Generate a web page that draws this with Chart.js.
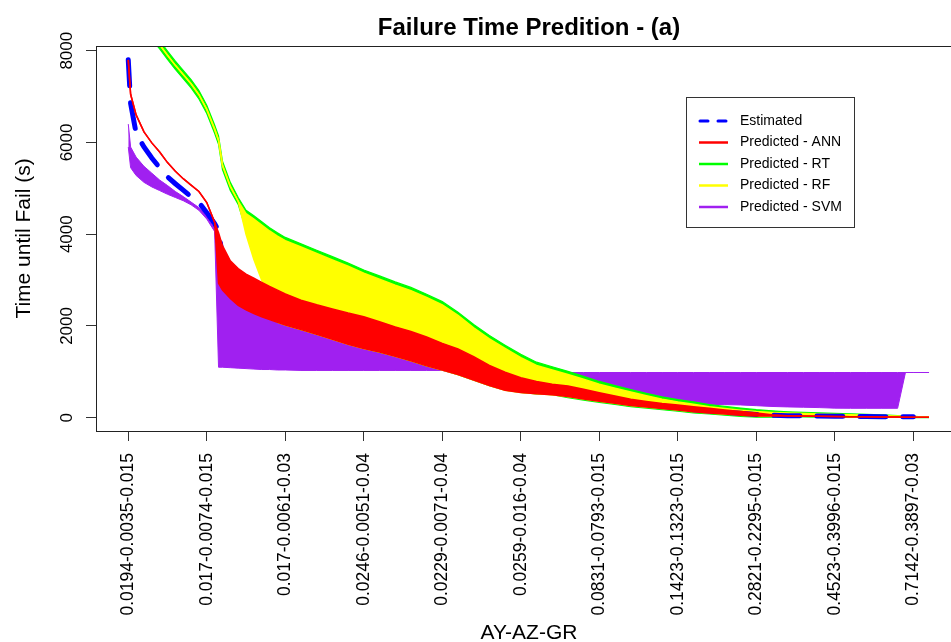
<!DOCTYPE html>
<html>
<head>
<meta charset="utf-8">
<title>Failure Time Predition - (a)</title>
<script src="https://cdn.jsdelivr.net/npm/chart.js@4.4.1/dist/chart.umd.min.js"></script>
<style>
  html, body { margin: 0; padding: 0; background: #fff; }
</style>
</head>
<body>
<canvas id="chart" width="951" height="642"></canvas>
<script>
// posiciones de las observaciones (10 unidades = una etiqueta del eje)
const pos = [
  0, 0.3, 1, 2, 3, 4, 5, 6, 7, 8, 9, 10, 11, 11.5,
  12, 13, 14, 15, 16, 17, 18, 19, 20,
  22, 24, 26, 28, 30, 32, 34, 36, 38, 40,
  42, 44, 46, 48, 50, 52, 54, 56, 58, 60,
  62, 64, 66, 68, 70, 72, 74, 76, 78, 80,
  82, 84, 86, 88, 90, 92, 94, 96, 98,
  99, 100, 102
];

const tickLabels = [
  "0.0194-0.0035-0.015", "0.017-0.0074-0.015", "0.017-0.0061-0.03",
  "0.0246-0.0051-0.04", "0.0229-0.0071-0.04", "0.0259-0.016-0.04",
  "0.0831-0.0793-0.015", "0.1423-0.1323-0.015", "0.2821-0.2295-0.015",
  "0.4523-0.3996-0.015", "0.7142-0.3897-0.03"
];
const yTicks = [0, 2000, 4000, 6000, 8000];

const seriesNames = ["Estimated", "Predicted - ANN", "Predicted - RT", "Predicted - RF", "Predicted - SVM"];
const seriesColors = ["#0000FF", "#FF0000", "#00FF00", "#FFFF00", "#A020F0"];

// Estimated
const estimated = [
  7800, 6850, 6200, 5900, 5660, 5450, 5250, 5100, 4960, 4820, 4690, 4470, 4230, 4080,
  3500, 3100, 2900, 2800, 2730, 2680, 2640, 2570, 2490,
  2360, 2240, 2120, 2020, 1920, 1820, 1720, 1610, 1490, 1370,
  1240, 1090, 940, 820, 740, 690, 640, 590, 520, 460,
  400, 340, 290, 250, 210, 175, 145, 120, 95, 70,
  55, 45, 40, 35, 30, 28, 25, 22, 20,
  19, 18, null
];

// ANN: borde superior / inferior de la banda
const annHi = [
  7800, 7050, 6600, 6230, 5990, 5790, 5560, 5370, 5210, 5070, 4930, 4690, 4260, 4030,
  3750, 3420, 3250, 3130, 3040, 2950, 2860, 2780, 2700,
  2560, 2460, 2370, 2280, 2200, 2090, 1980, 1880, 1760, 1620,
  1500, 1330, 1140, 990, 870, 790, 730, 690, 620, 545,
  475, 400, 355, 310, 275, 240, 205, 170, 135, 100,
  65, 45, 38, 32, 26, 22, 19, 16, 13,
  12, 11, 9
];
const annLo = [
  7800, 7050, 6600, 6230, 5990, 5790, 5560, 5370, 5210, 5070, 4930, 4690, 4260, 2930,
  2780, 2600, 2450, 2350, 2270, 2200, 2140, 2080, 2020,
  1920, 1820, 1710, 1600, 1510, 1430, 1340, 1240, 1130, 1040,
  940, 820, 700, 600, 550, 520, 500, 460, 410, 360,
  315, 265, 235, 200, 165, 130, 105, 80, 55, 35,
  35, 45, 38, 32, 26, 22, 19, 16, 13,
  12, 11, 9
];

// RT
const rtHi = [
  8890, 8850, 8770, 8610, 8420, 8220, 7990, 7770, 7570, 7370, 7130, 6810, 6380, 6140,
  5590, 5130, 4800, 4520, 4400, 4270, 4140, 4030, 3930,
  3790, 3650, 3510, 3370, 3220, 3090, 2960, 2840, 2690, 2530,
  2300, 2030, 1790, 1580, 1380, 1210, 1110, 1010, 900, 790,
  700, 615, 530, 455, 395, 345, 285, 245, 210, 175,
  150, 130, 115, 105, 95, 85, 75, 60, 45,
  40, 30, 15
];
const rtLo = [
  8710, 8670, 8590, 8430, 8240, 8040, 7810, 7590, 7390, 7190, 6950, 6630, 6200, 5960,
  5410, 4950, 4650, 4100, 3600, 3100, 2700, 2080, 2020,
  1920, 1820, 1710, 1600, 1510, 1430, 1340, 1240, 1130, 1040,
  940, 820, 700, 600, 550, 520, 500, 435, 385, 335,
  290, 240, 210, 175, 140, 105, 80, 55, 30, 12,
  12, 20, 15, 12, 10, 8, 6, 5, 4,
  4, 3, 2
];

// RF
const rfHi = [
  8800, 8760, 8680, 8520, 8330, 8130, 7900, 7680, 7480, 7280, 7040, 6720, 6290, 6050,
  5500, 5040, 4720, 4450, 4330, 4200, 4070, 3960, 3860,
  3720, 3580, 3440, 3300, 3150, 3020, 2890, 2770, 2620, 2460,
  2230, 1960, 1720, 1510, 1310, 1140, 1040, 940, 840, 730,
  645, 560, 480, 405, 345, 295, 240, 200, 165, 135,
  115, 100, 90, 80, 70, 62, 55, 45, 35,
  30, 25, 12
];
const rfLo = [
  8800, 8760, 8680, 8520, 8330, 8130, 7900, 7680, 7480, 7280, 7040, 6720, 6290, 6050,
  5500, 5040, 4720, 4000, 3450, 3000, 2700, 2080, 2020,
  1920, 1820, 1710, 1600, 1510, 1430, 1340, 1240, 1130, 1040,
  940, 820, 700, 600, 550, 520, 500, 460, 410, 360,
  315, 265, 235, 200, 165, 130, 105, 80, 55, 35,
  35, 45, 38, 32, 26, 22, 19, 16, 13,
  12, 11, 9
];

// SVM
const svmHi = [
  6400, 5900, 5680, 5480, 5330, 5180, 5060, 4930, 4820, 4700, 4580, 4390, 4120, 3000,
  2880, 2700, 2550, 2450, 2370, 2300, 2240, 2180, 2120,
  2020, 1920, 1810, 1700, 1610, 1530, 1440, 1340, 1230, 1140,
  985, 985, 985, 985, 985, 985, 985, 985, 985, 985,
  985, 985, 985, 985, 985, 985, 985, 985, 985, 985,
  985, 985, 985, 985, 985, 985, 985, 985, 985,
  985, 985, 985
];
const svmLo = [
  5900, 5450, 5280, 5130, 5030, 4950, 4870, 4800, 4730, 4640, 4520, 4330, 4060, 1100,
  1100, 1090, 1080, 1070, 1060, 1050, 1050, 1040, 1040,
  1030, 1030, 1030, 1030, 1030, 1030, 1030, 1030, 1030, 1030,
  940, 820, 700, 600, 550, 520, 500, 460, 410, 360,
  315, 290, 290, 290, 290, 290, 290, 285, 278, 262,
  245, 235, 228, 220, 208, 205, 205, 205, 205,
  985, 985, 985
];

const FONT = '"Liberation Sans", Arial, Helvetica, sans-serif';
Chart.defaults.font.family = FONT;
Chart.defaults.color = "#000";

const puntos = (arr) => pos.map((p, k) => ({ x: p, y: arr[k] }));

// banda = dos datasets: borde inferior y borde superior rellenado hasta el inferior
const datasets = [];
function banda(lo, hi, color, order, width) {
  const base = datasets.length;
  datasets.push({
    data: puntos(lo), borderColor: color, borderWidth: width,
    fill: false, order: order
  });
  datasets.push({
    data: puntos(hi), borderColor: color, borderWidth: width,
    backgroundColor: color, fill: base, order: order
  });
}

banda(svmLo, svmHi, seriesColors[4], 5, 1);
banda(rtLo, rtHi, seriesColors[2], 4, 1.2);
banda(rfLo, rfHi, seriesColors[3], 3, 1.5);
datasets.push({
  data: puntos(estimated), borderColor: seriesColors[0], borderWidth: 5,
  borderDash: [26, 17], borderCapStyle: "round", fill: false, order: 2
});
banda(annLo, annHi, seriesColors[1], 1, 1.5);

// textos, caja y leyenda al estilo de R
const decor = {
  id: "decor",
  afterDraw(chart) {
    const { ctx, chartArea: a, scales } = chart;
    const y = scales.y;
    const mid = 529;
    ctx.save();

    ctx.strokeStyle = "#222";
    ctx.lineWidth = 1;
    ctx.strokeRect(a.left + 0.5, a.top + 0.5, a.right - a.left + 10, a.bottom - a.top);

    ctx.fillStyle = "#000";
    ctx.font = "bold 24px " + FONT;
    ctx.textAlign = "center";
    ctx.textBaseline = "alphabetic";
    ctx.fillText("Failure Time Predition - (a)", mid, 35);

    ctx.font = "21px " + FONT;
    ctx.fillText("AY-AZ-GR", mid, 639);

    ctx.save();
    ctx.translate(30, (a.top + a.bottom) / 2);
    ctx.rotate(-Math.PI / 2);
    ctx.fillText("Time until Fail (s)", 0, 0);
    ctx.restore();

    ctx.font = "17px " + FONT;
    yTicks.forEach((v) => {
      ctx.save();
      ctx.translate(72, y.getPixelForValue(v));
      ctx.rotate(-Math.PI / 2);
      ctx.fillText(String(v), 0, 0);
      ctx.restore();
    });

    // leyenda
    ctx.fillStyle = "#fff";
    ctx.fillRect(686, 97, 169, 131);
    ctx.strokeStyle = "#333";
    ctx.strokeRect(686.5, 97.5, 168, 130);
    ctx.font = "14px " + FONT;
    ctx.textAlign = "left";
    ctx.textBaseline = "middle";
    seriesNames.forEach((nombre, k) => {
      const ly = 121 + k * 21.5;
      ctx.strokeStyle = seriesColors[k];
      ctx.lineWidth = k === 0 ? 3 : 2.5;
      ctx.lineCap = k === 0 ? "round" : "butt";
      ctx.setLineDash(k === 0 ? [8, 10] : []);
      ctx.beginPath();
      ctx.moveTo(k === 0 ? 700 : 699, ly);
      ctx.lineTo(728, ly);
      ctx.stroke();
      ctx.setLineDash([]);
      ctx.fillStyle = "#000";
      ctx.fillText(nombre, 740, ly);
    });
    ctx.restore();
  }
};

new Chart(document.getElementById("chart"), {
  type: "line",
  data: { datasets: datasets },
  plugins: [decor],
  options: {
    responsive: false,
    animation: false,
    events: [],
    layout: { padding: { top: 46, left: 0, right: 0, bottom: 0 } },
    elements: { point: { radius: 0 }, line: { tension: 0 } },
    plugins: {
      legend: { display: false },
      tooltip: { enabled: false },
      title: { display: false }
    },
    scales: {
      x: {
        type: "linear",
        min: -4.11,
        max: 104.8,
        afterFit: (s) => { s.height = 211; },
        afterBuildTicks: (s) => { s.ticks = tickLabels.map((_, k) => ({ value: k * 10 })); },
        grid: { drawOnChartArea: false, drawTicks: true, tickLength: 10, tickColor: "#333" },
        border: { display: true, color: "#333" },
        ticks: {
          autoSkip: false,
          minRotation: 90,
          maxRotation: 90,
          padding: 12,
          font: { size: 17.5 },
          callback: (v) => tickLabels[Math.round(v / 10)]
        }
      },
      y: {
        type: "linear",
        min: -290,
        max: 8102,
        afterFit: (s) => { s.width = 96; },
        afterBuildTicks: (s) => { s.ticks = yTicks.map((v) => ({ value: v })); },
        grid: { drawOnChartArea: false, drawTicks: true, tickLength: 10, tickColor: "#333" },
        border: { display: true, color: "#333" },
        ticks: { display: false }
      }
    }
  }
});
</script>
</body>
</html>
